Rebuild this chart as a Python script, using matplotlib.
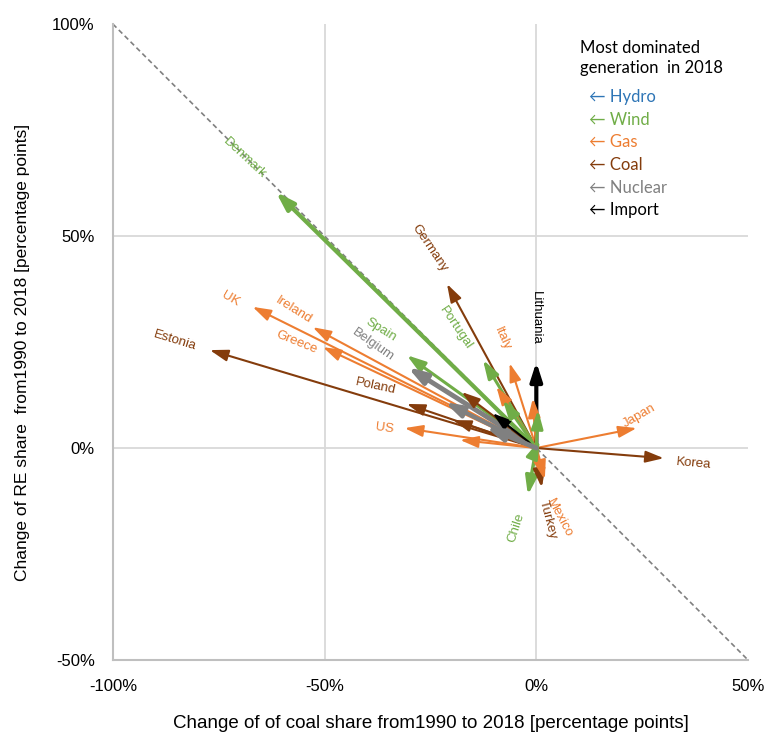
import matplotlib
matplotlib.use("Agg")
import matplotlib.pyplot as plt
from matplotlib.ticker import FuncFormatter

# change of coal share (x) and RE share (y), 1990 -> 2018, percentage points
countries = ["Estonia", "UK", "Ireland", "Greece", "Poland", "US", "Germany",
             "Spain", "Belgium", "Portugal", "Italy", "Lithuania",
             "Japan", "Korea", "Chile", "Turkey", "Mexico", "Denmark",
             "", "", "", "", "", "", "", "", "", "", ""]
coal_change = [-77.1, -67.0, -52.8, -50.4, -30.6, -31.1, -21.1,
               -30.6, -30.4, -12.6, -6.3, 0.0,
               23.7, 30.1, -2.0, 1.3, 2.0, -61.5,
               -17.6, -19.7, -18.0, -21.6, -10.3, -9.4, -7.9, -0.8, 0.4, 0.8, -12.0]
re_change = [23.1, 33.3, 28.5, 23.8, 10.4, 4.7, 38.7,
             21.9, 19.1, 20.8, 20.0, 20.3,
             4.7, -2.4, -11.1, -9.4, -7.5, 60.4,
             13.2, 6.6, 1.9, 10.8, 8.2, 14.4, 11.3, 11.8, 9.0, 1.9, 5.0]
dominant = ["Coal", "Gas", "Gas", "Gas", "Coal", "Gas", "Coal",
            "Wind", "Nuclear", "Wind", "Gas", "Import",
            "Gas", "Coal", "Wind", "Coal", "Gas", "Wind",
            "Coal", "Coal", "Gas", "Nuclear", "Import", "Gas", "Wind", "Gas",
            "Wind", "Wind", "Nuclear"]

legend_items = ["Hydro", "Wind", "Gas", "Coal", "Nuclear", "Import"]
colors = {"Hydro": "#2E75B6", "Wind": "#70AD47", "Gas": "#ED7D31",
          "Coal": "#843C0C", "Nuclear": "#808080", "Import": "#000000"}

# line widths of the arrows (same order as countries)
widths = [1.5, 1.5, 1.5, 1.5, 1.5, 1.5, 1.5,
          2.2, 3.5, 2.2, 1.5, 3.0,
          1.5, 1.5, 2.5, 2.0, 2.0, 3.0,
          1.5, 1.5, 1.5, 3.0, 1.5, 1.5, 2.2, 2.0, 2.2, 2.2, 3.5]

# label placement: offset from arrow tip in pixels and rotation
label_pos = {
    "Denmark": (-31, 34, -43), "Germany": (-17, 36, -56), "Portugal": (-27, 32, -56),
    "Italy": (-7, 25, -66), "Lithuania": (0, 44, -90), "Spain": (-26, 25, -32),
    "Belgium": (-35, 22, -35), "UK": (-22, 8, -30), "Ireland": (-19, 17, -32),
    "Greece": (-26, 5, -22), "Estonia": (-35, 10, -17), "Poland": (-31, 18, -12),
    "US": (-20, 0, -8), "Japan": (3, 12, 30), "Korea": (30, -5, -5),
    "Chile": (-12, -33, 72), "Turkey": (6, -32, -75), "Mexico": (15, -38, -62),
}

plt.rcParams['font.family'] = ['Liberation Sans', 'DejaVu Sans']

fig = plt.figure(figsize=(7.68, 7.34), dpi=100)
ax = fig.add_axes([0.147, 0.1008, 0.827, 0.8664])
ax.set_xlim(-100, 50)
ax.set_ylim(-50, 100)
ax.set_xticks([-100, -50, 0, 50])
ax.set_yticks([-50, 0, 50, 100])
pct = FuncFormatter(lambda v, p: f"{v:.0f}%")
ax.xaxis.set_major_formatter(pct)
ax.yaxis.set_major_formatter(pct)
ax.tick_params(length=0, labelsize=12, colors="#000000")
ax.tick_params(axis="x", pad=14)
ax.tick_params(axis="y", pad=13)
for s in ["top", "right"]:
    ax.spines[s].set_visible(False)
for s in ["left", "bottom"]:
    ax.spines[s].set_color("#BFBFBF")
    ax.spines[s].set_linewidth(1.5)

# inner gridlines only
for gx in [-50, 0]:
    ax.axvline(gx, color="#D9D9D9", lw=1.3, zorder=0)
for gy in [0, 50]:
    ax.axhline(gy, color="#D9D9D9", lw=1.3, zorder=0)

# diagonal: coal replaced one-to-one by renewables
ax.plot([-100, 50], [100, -50], ls=(0, (3, 2)), color="#808080", lw=1.2, zorder=1)

for name, x, y, dom, w in zip(countries, coal_change, re_change, dominant, widths):
    c = colors[dom]
    ax.annotate("", xy=(x, y), xytext=(0, 0),
                arrowprops=dict(arrowstyle="-|>,head_length=1.0,head_width=0.32",
                                color=c, lw=w, shrinkA=0, shrinkB=0,
                                mutation_scale=11),
                zorder=3)
    if name:
        dx, dy, rot = label_pos[name]
        ax.annotate(name, xy=(x, y), xytext=(dx, dy), textcoords="offset pixels",
                    ha="center", va="center", rotation=rot,
                    rotation_mode="anchor", fontsize=9.5, color=c, zorder=4)

ax.set_xlabel("Change of of coal share from1990 to 2018 [percentage points]",
              fontsize=13.5, labelpad=15)
ax.set_ylabel("Change of RE share  from1990 to 2018 [percentage points]",
              fontsize=12.5)
ax.yaxis.set_label_coords(-0.13, 0.483)

# legend as plain text block
lfont = ['Lato', 'DejaVu Sans']
ax.text(0.735, 0.975, "Most dominated\ngeneration  in 2018", transform=ax.transAxes,
        ha="left", va="top", fontsize=12, family=lfont, linespacing=1.3)
for i, item in enumerate(legend_items):
    ax.text(0.749, 0.885 - i * 0.0356, "\u2190 " + item, transform=ax.transAxes,
            ha="left", va="center", fontsize=12, family=lfont, color=colors[item])

fig.savefig("out.png", dpi=100)
